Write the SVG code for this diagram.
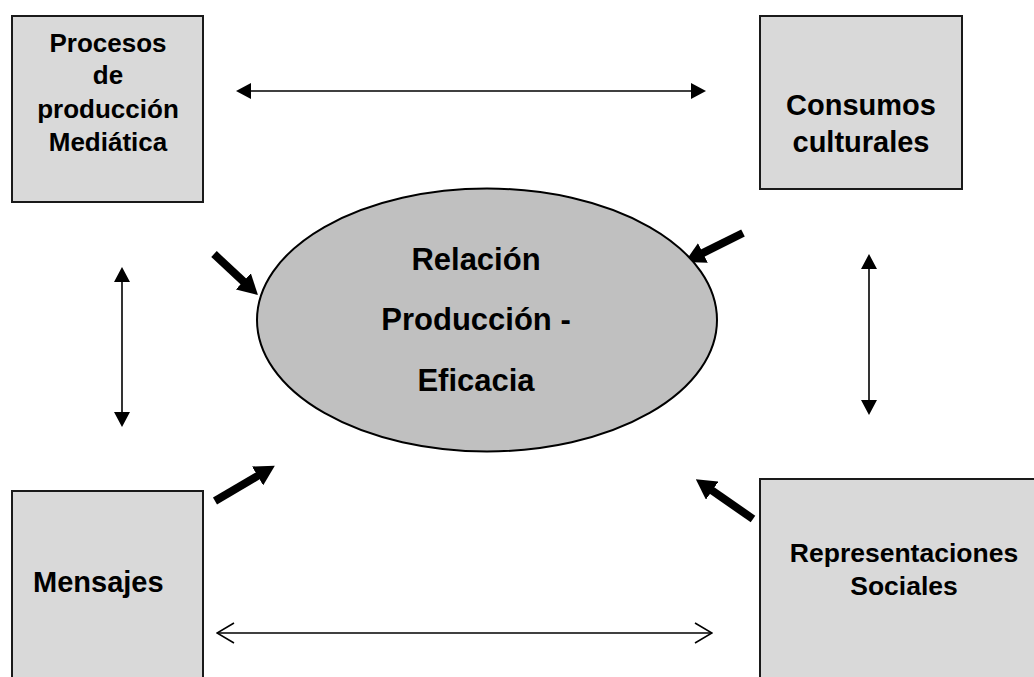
<svg xmlns="http://www.w3.org/2000/svg" width="1034" height="677" viewBox="0 0 1034 677">
<style>
.box{fill:#d9d9d9;stroke:#1a1a1a;stroke-width:2}
.ell{fill:#c0c0c0;stroke:#000;stroke-width:2}
.t{font-family:"Liberation Sans",Arial,sans-serif;font-weight:bold;fill:#000;text-anchor:middle}
.thin{stroke:#000;stroke-width:1.6;fill:none}
.bold{stroke:#000;stroke-width:8;fill:none}
</style>
<defs>
<marker id="tri" markerUnits="userSpaceOnUse" viewBox="0 0 15 16" markerWidth="15" markerHeight="16" refX="13" refY="8" orient="auto-start-reverse">
<path d="M0,0 L15,8 L0,16 z" fill="#000"/>
</marker>
<marker id="open" markerUnits="userSpaceOnUse" viewBox="-1 -1 19 22" markerWidth="19" markerHeight="22" refX="17" refY="10" orient="auto-start-reverse">
<path d="M0,0 L17,10 L0,20" fill="none" stroke="#000" stroke-width="1.6"/>
</marker>
<marker id="big" markerUnits="userSpaceOnUse" viewBox="0 0 20 22" markerWidth="20" markerHeight="22" refX="2" refY="11" orient="auto">
<path d="M0,0 L20,11 L0,22 z" fill="#000"/>
</marker>
</defs>
<rect width="1034" height="677" fill="#fff"/>
<g id="connectors">
<line class="thin" x1="238" y1="91" x2="704" y2="91" marker-start="url(#tri)" marker-end="url(#tri)"/>
<line class="thin" x1="122" y1="269" x2="122" y2="425" marker-start="url(#tri)" marker-end="url(#tri)"/>
<line class="thin" x1="869" y1="256" x2="869" y2="413" marker-start="url(#tri)" marker-end="url(#tri)"/>
<line class="thin" x1="217" y1="633" x2="712" y2="633" marker-start="url(#open)" marker-end="url(#open)"/>
<line class="bold" x1="214" y1="254" x2="244.8" y2="282.7" marker-end="url(#big)"/>
<line class="bold" x1="743" y1="233" x2="701.1" y2="253.9" marker-end="url(#big)"/>
<line class="bold" x1="215" y1="501" x2="259.3" y2="474.9" marker-end="url(#big)"/>
<line class="bold" x1="753" y1="519" x2="710.6" y2="489.5" marker-end="url(#big)"/>
</g>
<g id="procesos">
<rect class="box" x="12" y="16" width="191" height="186"/>
<text class="t" font-size="26" x="108"><tspan x="108" y="52">Procesos</tspan><tspan x="108" y="84">de</tspan><tspan x="108" y="118">producción</tspan><tspan x="108" y="151">Mediática</tspan></text>
</g>
<g id="consumos">
<rect class="box" x="760" y="16" width="202" height="173"/>
<text class="t" font-size="29" x="861"><tspan x="861" y="115">Consumos</tspan><tspan x="861" y="152">culturales</tspan></text>
</g>
<g id="relacion">
<ellipse class="ell" cx="487" cy="320" rx="230" ry="131.5"/>
<text class="t" font-size="31" x="476"><tspan x="476" y="270">Relación</tspan><tspan x="476" y="330">Producción -</tspan><tspan x="476" y="391">Eficacia</tspan></text>
</g>
<g id="mensajes">
<rect class="box" x="12" y="491" width="191" height="200"/>
<text class="t" font-size="29" x="33" y="592" style="text-anchor:start">Mensajes</text>
</g>
<g id="representaciones">
<rect class="box" x="760" y="479" width="290" height="220"/>
<text class="t" font-size="26.5" x="904"><tspan x="904" y="562">Representaciones</tspan><tspan x="904" y="595">Sociales</tspan></text>
</g>
</svg>
